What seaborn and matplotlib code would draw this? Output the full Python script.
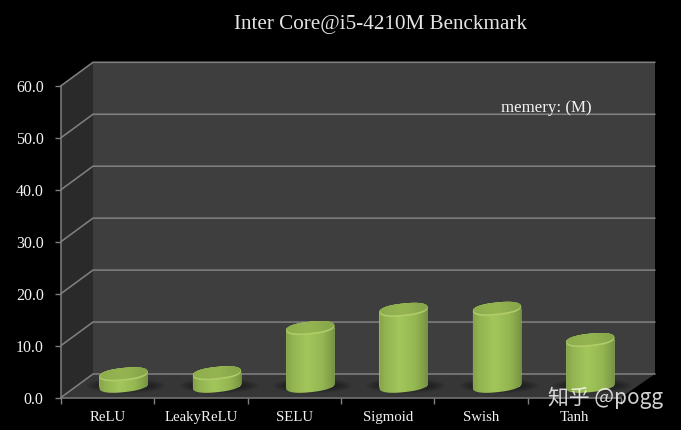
import numpy as np
import matplotlib
matplotlib.use("Agg")
import matplotlib.pyplot as plt
import seaborn as sns
from matplotlib.colors import LinearSegmentedColormap
from matplotlib.patches import Ellipse, Polygon
from matplotlib.path import Path
from matplotlib.transforms import IdentityTransform

categories = ["ReLU", "LeakyReLU", "SELU", "Sigmoid", "Swish", "Tanh"]
memory_values = [2.2, 2.4, 11.1, 14.6, 14.8, 8.8]
y_ticks = [0, 10, 20, 30, 40, 50, 60]
title_text = "Inter Core@i5-4210M Benckmark"
unit_text = "memery: (M)"
watermark = "知乎 @pogg"

BG, BACK, SIDE, FLOOR = "#000000", "#3e3e3e", "#2a2a2a", "#363636"
LINE = "#7f7f7f"
W, H = 681, 430
DEPTH_X, DEPTH_Y = 32 / 93.33, 23.5 / 5.195   # box depth in data units
BACK_EXTRA = 2 / 93.33
BAR_W = 0.52
TILT = 6.0
CAP_B = 6.4

sns.set_theme(style="dark", rc={"axes.facecolor": "none", "figure.facecolor": BG})
serif = ["Liberation Serif", "DejaVu Serif"]

fig = plt.figure(figsize=(W / 100, H / 100), dpi=100, facecolor=BG)
ax = fig.add_axes([61 / W, 1 - 397.5 / H, 560 / W, 311.7 / H])

sns.barplot(x=categories, y=memory_values, color="#98ba55", width=BAR_W, ax=ax, zorder=6, saturation=1)
bars = list(ax.patches)
ax.set_xlim(-0.5, 5.5)
ax.set_ylim(0, 60)
ax.set_xlabel("")
ax.set_ylabel("")
ax.grid(False)

# walls and floor, in data coordinates
x0, x1 = -0.5, 5.5
xb0, xb1 = x0 + DEPTH_X, x1 + DEPTH_X + BACK_EXTRA
ax.add_patch(Polygon([(xb0, DEPTH_Y), (xb1, DEPTH_Y), (xb1, 60 + DEPTH_Y), (xb0, 60 + DEPTH_Y)],
                     fc=BACK, ec="none", clip_on=False, zorder=1))
ax.add_patch(Polygon([(x0, 0), (xb0, DEPTH_Y), (xb0, 60 + DEPTH_Y), (x0, 60)],
                     fc=SIDE, ec="none", clip_on=False, zorder=1))
ax.add_patch(Polygon([(x0, 0), (x1, 0), (xb1, DEPTH_Y), (xb0, DEPTH_Y)],
                     fc=FLOOR, ec="none", clip_on=False, zorder=1))
for v in y_ticks:
    ax.plot([x0, xb0, xb1], [v, v + DEPTH_Y, v + DEPTH_Y],
            color=LINE, lw=1.15, clip_on=False, zorder=2, solid_joinstyle="miter")

for name in ("top", "right"):
    ax.spines[name].set_visible(False)
for name in ("left", "bottom"):
    ax.spines[name].set_color(LINE)
    ax.spines[name].set_linewidth(1.1)
    ax.spines[name].set_zorder(3)

ax.set_yticks(y_ticks)
ax.set_yticklabels([f"{v:.1f}" for v in y_ticks], family=serif, fontsize=11.5, color="#f2f2f2")
ax.tick_params(axis="y", length=4.5, width=1, color=LINE, pad=8, left=True)
ax.set_xticks(range(len(categories)))
ax.set_xticklabels(categories, family=serif, fontsize=10.7, color="#f2f2f2")
ax.set_xticks(np.arange(-0.5, 6.0, 1), minor=True)
ax.tick_params(axis="x", which="major", length=0, pad=10)
ax.tick_params(axis="x", which="minor", length=4, width=1, color=LINE, bottom=True)

body_cmap = LinearSegmentedColormap.from_list(
    "body", [(0, "#84a34a"), (0.12, "#92b350"), (0.42, "#a3c65c"), (0.75, "#95b652"), (0.93, "#7f9e47"), (1, "#738f40")])
cap_cmap = LinearSegmentedColormap.from_list(
    "cap", [(0, "#8dac4d"), (0.5, "#95b451"), (1, "#85a349")])
grad = np.linspace(0, 1, 128).reshape(1, -1)


def ell_pts(cx, cy, a, b, ts):
    th = np.radians(TILT)
    c = np.sign(np.cos(ts)) * np.abs(np.cos(ts)) ** 0.85
    s = np.sign(np.sin(ts)) * np.abs(np.sin(ts)) ** 0.85
    return np.column_stack([cx + a * c * np.cos(th) - b * s * np.sin(th),
                            cy + a * c * np.sin(th) + b * s * np.cos(th)])


fig.canvas.draw()
for bar, value in zip(bars, memory_values):
    left = bar.get_x() + DEPTH_X / 2
    width = bar.get_width()
    base = DEPTH_Y / 2
    bar.set_x(left)
    bar.set_y(base)
    (cx, cy_bot) = ax.transData.transform((left + width / 2, base))
    (_, cy_top) = ax.transData.transform((left + width / 2, base + value))
    (xl, _) = ax.transData.transform((left, 0))
    (xr, _) = ax.transData.transform((left + width, 0))
    a = (xr - xl) / 2 / np.cos(np.radians(TILT))

    # soft shadow on the floor
    for k in range(6):
        ax.add_patch(Ellipse((cx + 2, cy_bot), 2 * a + 30 - 5 * k, 15 - 1.6 * k, angle=0,
                             fc="black", ec="none", alpha=0.07, transform=IdentityTransform(),
                             clip_on=False, zorder=4))

    # cylinder body: lower half of base ellipse plus upper half of top ellipse
    lower = ell_pts(cx, cy_bot, a, CAP_B, np.linspace(np.pi, 2 * np.pi, 60))
    upper = ell_pts(cx, cy_top, a, CAP_B, np.linspace(0, np.pi, 60))
    outline = Path(np.vstack([lower, upper, lower[:1]]), closed=True)
    bar.set_clip_path(outline, transform=IdentityTransform())
    ymin = lower[:, 1].min()
    ymax = upper[:, 1].max()
    dmin = ax.transData.inverted().transform((0, ymin))[1]
    dmax = ax.transData.inverted().transform((0, ymax))[1]
    im = ax.imshow(grad, cmap=body_cmap, extent=[left, left + width, dmin, dmax], aspect="auto", zorder=7)
    im.set_clip_path(outline, transform=IdentityTransform())

    # top cap: soft lighter rim underneath a flatter surface
    rim = ell_pts(cx, cy_top, a * 0.99, CAP_B, np.linspace(0, 2 * np.pi, 120))
    ax.add_patch(Polygon(rim, closed=True, fc="#aecd69", ec="none", transform=IdentityTransform(), clip_on=False, zorder=8))
    surf = ell_pts(cx, cy_top + 0.9, a * 0.97, CAP_B * 0.86, np.linspace(0, 2 * np.pi, 120))
    surf_path = Path(np.vstack([surf, surf[:1]]), closed=True)
    cap_im = ax.imshow(grad, cmap=cap_cmap, extent=[left, left + width, dmin, dmax], aspect="auto", zorder=9)
    cap_im.set_clip_path(surf_path, transform=IdentityTransform())

ax.set_xlim(-0.5, 5.5)
ax.set_ylim(0, 60)

fig.text(381 / W, 1 - 25 / H, title_text, family=serif, fontsize=15.2, color="#e4e4e4", ha="center", va="center")
fig.text(546 / W, 1 - 108.5 / H, unit_text, family=serif, fontsize=12.2, color="#f2f2f2", ha="center", va="center", zorder=12)
fig.text(605.5 / W, 1 - 398 / H, watermark, family=["Noto Sans CJK SC", "DejaVu Sans"], fontsize=15,
         color="#ffffff", alpha=0.82, ha="center", va="center", zorder=12)

fig.savefig("out.png", dpi=100, facecolor=BG)
